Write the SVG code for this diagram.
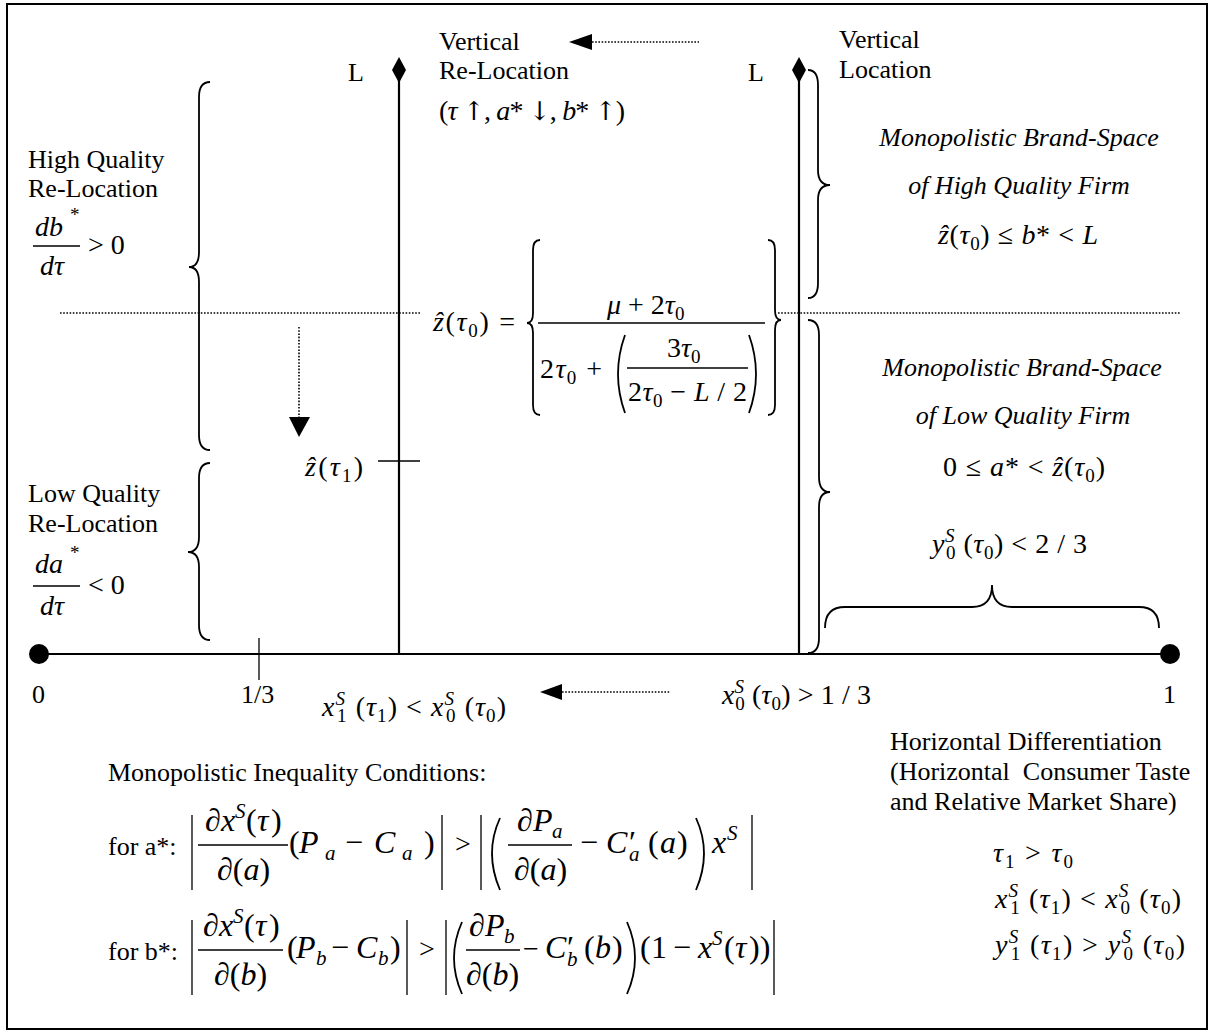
<svg xmlns="http://www.w3.org/2000/svg" width="1212" height="1034" viewBox="0 0 1212 1034">
<style>
.t{font-family:"Liberation Serif","Times New Roman","DejaVu Serif",serif;font-size:26px;fill:#000}
.m{font-size:28px}
.b{font-size:32px}
.i{font-style:italic}
.s{font-size:19px}
.sb{font-size:21px}
.ar{font-family:"DejaVu Serif",serif;font-size:26px}
.ln{stroke:#000;stroke-width:2.2;fill:none}
.th{stroke:#000;stroke-width:1.3;fill:none}
.dt{stroke:#000;stroke-width:1.6;stroke-dasharray:1.6 1.6;fill:none}
.br{stroke:#000;stroke-width:1.8;fill:none}
.pre{white-space:pre}
.fill{fill:#000;stroke:none}
</style>
<rect x="0" y="0" width="1212" height="1034" fill="#fff"/>
<rect x="7" y="4" width="1200" height="1025" fill="none" stroke="#000" stroke-width="2"/>

<g id="connectors">
  <line class="ln" x1="39" y1="654" x2="1170" y2="654"/>
  <circle class="fill" cx="39" cy="654" r="10"/>
  <circle class="fill" cx="1170" cy="654" r="10"/>
  <line class="ln" x1="399" y1="75" x2="399" y2="654"/>
  <polygon class="fill" points="399,57 406,70 399,83 392,70"/>
  <line class="ln" x1="799" y1="75" x2="799" y2="654"/>
  <polygon class="fill" points="799,57 806,70 799,83 792,70"/>
  <line class="th" x1="259" y1="638" x2="259" y2="680"/>
  <line class="th" x1="378" y1="461" x2="420" y2="461"/>
  <line class="dt" x1="60" y1="313" x2="420" y2="313"/>
  <line class="dt" x1="778" y1="313" x2="1180" y2="313"/>
  <line class="dt" x1="592" y1="42" x2="699" y2="42"/>
  <polygon class="fill" points="569,42 592,34 592,50"/>
  <line class="dt" x1="299" y1="327" x2="299" y2="417"/>
  <polygon class="fill" points="289,417 310,417 299,437"/>
  <line class="dt" x1="562" y1="692" x2="670" y2="692"/>
  <polygon class="fill" points="540,692 562,684 562,700"/>
</g>

<g id="top-labels">
  <text class="t" x="348" y="81">L</text>
  <text class="t" x="748" y="81">L</text>
  <text class="t" x="439" y="50">Vertical</text>
  <text class="t" x="439" y="79">Re-Location</text>
  <text class="t m" x="439" y="120" textLength="186">(<tspan class="i">τ</tspan> <tspan class="ar">↑</tspan>, <tspan class="i">a</tspan>* <tspan class="ar">↓</tspan>, <tspan class="i">b</tspan>* <tspan class="ar">↑</tspan>)</text>
  <text class="t" x="839" y="48">Vertical</text>
  <text class="t" x="839" y="78">Location</text>
</g>

<g id="high-quality-relocation">
  <text class="t" x="28" y="168">High Quality</text>
  <text class="t" x="28" y="197">Re-Location</text>
  <text class="t m i" x="35" y="236">db</text>
  <text class="t s" x="70" y="221">*</text>
  <line class="th" x1="33" y1="246" x2="80" y2="246"/>
  <text class="t m i" x="40" y="275">dτ</text>
  <text class="t m" x="88" y="254">&gt; 0</text>
  <path class="br" d="M210 82 Q199 82 199 97 L199 252 Q199 267 189 267 Q199 267 199 282 L199 435 Q199 450 210 450"/>
</g>

<g id="low-quality-relocation">
  <text class="t" x="28" y="502">Low Quality</text>
  <text class="t" x="28" y="532">Re-Location</text>
  <text class="t m i" x="35" y="573">da</text>
  <text class="t s" x="70" y="559">*</text>
  <line class="th" x1="33" y1="586" x2="80" y2="586"/>
  <text class="t m i" x="40" y="615">dτ</text>
  <text class="t m" x="88" y="594">&lt; 0</text>
  <path class="br" d="M210 463 Q199 463 199 478 L199 537 Q199 552 188 552 Q199 552 199 567 L199 625 Q199 640 210 640"/>
</g>

<g id="z-tau1">
  <text class="t m" x="305" y="476" textLength="58"><tspan class="i">ẑ</tspan>(<tspan class="i">τ</tspan><tspan class="s" dy="6">1</tspan><tspan dy="-6">)</tspan></text>
</g>

<g id="z-hat-formula">
  <text class="t m" x="433" y="331" textLength="82"><tspan class="i">ẑ</tspan>(<tspan class="i">τ</tspan><tspan class="s" dy="6">0</tspan><tspan dy="-6">) =</tspan></text>
  <path class="br" d="M540 240 Q533 240 533 250 L533 313 Q533 323 527 323 Q533 323 533 333 L533 405 Q533 415 540 415"/>
  <text class="t m" x="607" y="314"><tspan class="i">μ</tspan> + 2<tspan class="i">τ</tspan><tspan class="s" dy="6">0</tspan></text>
  <line class="th" x1="538" y1="323" x2="765" y2="323"/>
  <text class="t m" x="540" y="378" textLength="62">2<tspan class="i">τ</tspan><tspan class="s" dy="6">0</tspan><tspan dy="-6"> +</tspan></text>
  <path class="br" d="M625 335 Q611 374 625 413"/>
  <text class="t m" x="667" y="357">3<tspan class="i">τ</tspan><tspan class="s" dy="6">0</tspan></text>
  <line class="th" x1="627" y1="368" x2="748" y2="368"/>
  <text class="t m" x="628" y="401" textLength="119">2<tspan class="i">τ</tspan><tspan class="s" dy="6">0</tspan><tspan dy="-6"> − </tspan><tspan class="i">L</tspan> / 2</text>
  <path class="br" d="M749 335 Q763 374 749 413"/>
  <path class="br" d="M768 240 Q775 240 775 250 L775 310 Q775 320 781 320 Q775 320 775 330 L775 405 Q775 415 768 415"/>
</g>

<g id="high-quality-brand-space">
  <path class="br" d="M808 70 Q818 70 818 85 L818 170 Q818 185 830 185 Q818 185 818 200 L818 283 Q818 298 808 298"/>
  <text class="t i" x="1019" y="146" text-anchor="middle">Monopolistic Brand-Space</text>
  <text class="t i" x="1019" y="194" text-anchor="middle">of High Quality Firm</text>
  <text class="t m" x="938" y="244" textLength="160"><tspan class="i">ẑ</tspan>(<tspan class="i">τ</tspan><tspan class="s" dy="6">0</tspan><tspan dy="-6">) ≤ </tspan><tspan class="i">b</tspan>* &lt; <tspan class="i">L</tspan></text>
</g>

<g id="low-quality-brand-space">
  <path class="br" d="M808 320 Q819 320 819 335 L819 477 Q819 492 830 492 Q819 492 819 507 L819 638 Q819 653 808 653"/>
  <text class="t i" x="1022" y="376" text-anchor="middle">Monopolistic Brand-Space</text>
  <text class="t i" x="1023" y="424" text-anchor="middle">of Low Quality Firm</text>
  <text class="t m" x="943" y="476" textLength="162">0 ≤ <tspan class="i">a</tspan>* &lt; <tspan class="i">ẑ</tspan>(<tspan class="i">τ</tspan><tspan class="s" dy="6">0</tspan><tspan dy="-6">)</tspan></text>
  <text class="t m" x="932" y="553" textLength="155"><tspan class="i">y</tspan><tspan class="s i" dy="-11">S</tspan><tspan class="s" dx="-9" dy="17">0</tspan><tspan dy="-6"> (</tspan><tspan class="i">τ</tspan><tspan class="s" dy="6">0</tspan><tspan dy="-6">) &lt; 2 / 3</tspan></text>
  <path class="br" d="M825 628 Q825 607 845 607 L972 607 Q992 607 992 585 Q992 607 1012 607 L1139 607 Q1159 607 1159 628"/>
</g>

<g id="axis-labels">
  <text class="t" x="32" y="703">0</text>
  <text class="t" x="241" y="703">1/3</text>
  <text class="t" x="1163" y="703">1</text>
  <text class="t m" x="322" y="716" textLength="184"><tspan class="i">x</tspan><tspan class="s i" dy="-11">S</tspan><tspan class="s" dx="-9" dy="17">1</tspan><tspan dy="-6"> (</tspan><tspan class="i">τ</tspan><tspan class="s" dy="6">1</tspan><tspan dy="-6">) &lt; </tspan><tspan class="i">x</tspan><tspan class="s i" dy="-11">S</tspan><tspan class="s" dx="-9" dy="17">0</tspan><tspan dy="-6"> (</tspan><tspan class="i">τ</tspan><tspan class="s" dy="6">0</tspan><tspan dy="-6">)</tspan></text>
  <text class="t m" x="722" y="704" textLength="149"><tspan class="i">x</tspan><tspan class="s i" dy="-11">S</tspan><tspan class="s" dx="-9" dy="17">0</tspan><tspan dy="-6"> (</tspan><tspan class="i">τ</tspan><tspan class="s" dy="6">0</tspan><tspan dy="-6">) &gt; 1 / 3</tspan></text>
</g>

<g id="horizontal-differentiation">
  <text class="t" x="890" y="750">Horizontal Differentiation</text>
  <text class="t pre" x="890" y="780">(Horizontal  Consumer Taste</text>
  <text class="t" x="890" y="810">and Relative Market Share)</text>
</g>

<g id="tau-conditions">
  <text class="t m" x="993" y="862" textLength="80"><tspan class="i">τ</tspan><tspan class="s" dy="6">1</tspan><tspan dy="-6"> &gt; </tspan><tspan class="i">τ</tspan><tspan class="s" dy="6">0</tspan></text>
  <text class="t m" x="995" y="908" textLength="186"><tspan class="i">x</tspan><tspan class="s i" dy="-11">S</tspan><tspan class="s" dx="-9" dy="17">1</tspan><tspan dy="-6"> (</tspan><tspan class="i">τ</tspan><tspan class="s" dy="6">1</tspan><tspan dy="-6">) &lt; </tspan><tspan class="i">x</tspan><tspan class="s i" dy="-11">S</tspan><tspan class="s" dx="-9" dy="17">0</tspan><tspan dy="-6"> (</tspan><tspan class="i">τ</tspan><tspan class="s" dy="6">0</tspan><tspan dy="-6">)</tspan></text>
  <text class="t m" x="995" y="954" textLength="190"><tspan class="i">y</tspan><tspan class="s i" dy="-11">S</tspan><tspan class="s" dx="-9" dy="17">1</tspan><tspan dy="-6"> (</tspan><tspan class="i">τ</tspan><tspan class="s" dy="6">1</tspan><tspan dy="-6">) &gt; </tspan><tspan class="i">y</tspan><tspan class="s i" dy="-11">S</tspan><tspan class="s" dx="-9" dy="17">0</tspan><tspan dy="-6"> (</tspan><tspan class="i">τ</tspan><tspan class="s" dy="6">0</tspan><tspan dy="-6">)</tspan></text>
</g>

<g id="inequality-conditions">
  <text class="t" x="108" y="781">Monopolistic Inequality Conditions:</text>
  <text class="t" x="108" y="855">for a*:</text>
  <line class="th" x1="192" y1="815" x2="192" y2="890"/>
  <text class="t b" y="831"><tspan x="205">∂</tspan><tspan x="221" class="i">x</tspan><tspan x="235" class="sb i" dy="-13">S</tspan><tspan x="246" dy="13">(</tspan><tspan x="257" class="i">τ</tspan><tspan x="271">)</tspan></text>
  <line class="th" x1="198" y1="845" x2="288" y2="845"/>
  <text class="t b" x="217" y="880">∂(<tspan class="i">a</tspan>)</text>
  <text class="t b" y="853"><tspan x="289">(</tspan><tspan x="299" class="i">P</tspan><tspan x="325" class="sb i" dy="7">a</tspan><tspan x="345" dy="-7">−</tspan><tspan x="374" class="i">C</tspan><tspan x="402" class="sb i" dy="7">a</tspan><tspan x="424" dy="-7">)</tspan></text>
  <line class="th" x1="442" y1="815" x2="442" y2="890"/>
  <text class="t m" x="455" y="853">&gt;</text>
  <line class="th" x1="481" y1="815" x2="481" y2="890"/>
  <path class="br" d="M500 818 Q484 853 500 890"/>
  <text class="t b" y="831"><tspan x="517">∂</tspan><tspan x="533" class="i">P</tspan><tspan x="552" class="sb i" dy="7">a</tspan></text>
  <line class="th" x1="508" y1="845" x2="572" y2="845"/>
  <text class="t b" x="514" y="880">∂(<tspan class="i">a</tspan>)</text>
  <text class="t b" y="853"><tspan x="580">−</tspan><tspan x="606" class="i">C</tspan><tspan x="629">′</tspan><tspan x="629" class="sb i" dy="8">a</tspan><tspan x="648" dy="-8">(</tspan><tspan x="660" class="i">a</tspan><tspan x="677">)</tspan></text>
  <path class="br" d="M696 818 Q712 853 696 890"/>
  <text class="t b" y="853"><tspan x="712" class="i">x</tspan><tspan x="727" class="sb i" dy="-13">S</tspan></text>
  <line class="th" x1="752" y1="815" x2="752" y2="890"/>

  <text class="t" x="108" y="960">for b*:</text>
  <line class="th" x1="192" y1="920" x2="192" y2="995"/>
  <text class="t b" y="936"><tspan x="203">∂</tspan><tspan x="219" class="i">x</tspan><tspan x="233" class="sb i" dy="-13">S</tspan><tspan x="244" dy="13">(</tspan><tspan x="255" class="i">τ</tspan><tspan x="269">)</tspan></text>
  <line class="th" x1="198" y1="950" x2="283" y2="950"/>
  <text class="t b" x="214" y="985">∂(<tspan class="i">b</tspan>)</text>
  <text class="t b" y="958"><tspan x="287">(</tspan><tspan x="296" class="i">P</tspan><tspan x="316" class="sb i" dy="7">b</tspan><tspan x="331" dy="-7">−</tspan><tspan x="356" class="i">C</tspan><tspan x="378" class="sb i" dy="7">b</tspan><tspan x="390" dy="-7">)</tspan></text>
  <line class="th" x1="407" y1="920" x2="407" y2="995"/>
  <text class="t m" x="419" y="958">&gt;</text>
  <line class="th" x1="446" y1="920" x2="446" y2="995"/>
  <path class="br" d="M462 922 Q446 958 462 994"/>
  <text class="t b" y="936"><tspan x="469">∂</tspan><tspan x="485" class="i">P</tspan><tspan x="504" class="sb i" dy="7">b</tspan></text>
  <line class="th" x1="466" y1="950" x2="520" y2="950"/>
  <text class="t b" x="466" y="985">∂(<tspan class="i">b</tspan>)</text>
  <text class="t b" y="958"><tspan x="523" class="m">−</tspan><tspan x="545" class="i">C</tspan><tspan x="567">′</tspan><tspan x="567" class="sb i" dy="8">b</tspan><tspan x="584" dy="-8">(</tspan><tspan x="595" class="i">b</tspan><tspan x="612">)</tspan></text>
  <path class="br" d="M627 922 Q643 958 627 994"/>
  <text class="t b" y="958"><tspan x="640">(</tspan><tspan x="651">1</tspan><tspan x="673">−</tspan><tspan x="698" class="i">x</tspan><tspan x="712" class="sb i" dy="-13">S</tspan><tspan x="724" dy="13">(</tspan><tspan x="735" class="i">τ</tspan><tspan x="749">))</tspan></text>
  <line class="th" x1="774" y1="920" x2="774" y2="995"/>
</g>
</svg>
